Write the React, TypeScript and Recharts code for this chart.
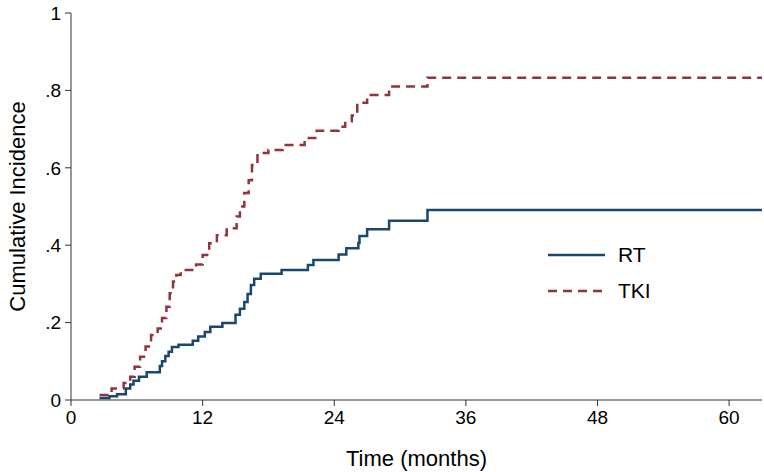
import React from "react";
import { LineChart, Line, XAxis, YAxis } from "recharts";

// step points (months, cumulative incidence)
const rtTimes = [2.6, 3.5, 4.2, 5.0, 5.4, 5.7, 6.2, 6.9, 8.1, 8.3, 8.6, 8.9, 9.2, 9.8, 11.1, 11.6, 12.2, 12.7, 13.8, 15.0, 15.4, 15.8, 16.1, 16.4, 16.7, 17.3, 19.2, 21.6, 22.1, 24.4, 25.1, 26.2, 26.3, 27.0, 29.0, 32.5, 63];
const rtValues = [0.005, 0.01, 0.015, 0.03, 0.04, 0.05, 0.06, 0.072, 0.088, 0.1, 0.114, 0.125, 0.137, 0.143, 0.153, 0.164, 0.176, 0.189, 0.199, 0.22, 0.236, 0.253, 0.274, 0.297, 0.313, 0.326, 0.336, 0.349, 0.362, 0.376, 0.392, 0.406, 0.424, 0.441, 0.463, 0.491, 0.491];

const tkiTimes = [2.6, 3.7, 4.8, 5.4, 5.8, 6.3, 6.8, 7.3, 7.9, 8.3, 8.7, 9.0, 9.3, 9.6, 10.0, 11.4, 12.0, 12.6, 13.3, 14.2, 15.1, 15.4, 15.8, 16.2, 16.5, 17.0, 18.0, 19.3, 21.3, 22.4, 24.4, 25.0, 25.6, 26.1, 27.0, 29.0, 32.5, 63];
const tkiValues = [0.013, 0.03, 0.044, 0.06, 0.086, 0.112, 0.138, 0.168, 0.185, 0.212, 0.241, 0.276, 0.306, 0.323, 0.336, 0.35, 0.375, 0.405, 0.426, 0.444, 0.474, 0.5, 0.535, 0.568, 0.607, 0.638, 0.646, 0.659, 0.677, 0.696, 0.706, 0.72, 0.735, 0.768, 0.788, 0.81, 0.833, 0.833];

const seriesNames = ["RT", "TKI"];
const xTicks = [0, 12, 24, 36, 48, 60];
const yTicks = [0, 0.2, 0.4, 0.6, 0.8, 1];

const BLUE = "#1a476f";
const RED = "#90353b";
const FONT = "'Liberation Sans', Arial, Helvetica, sans-serif";

const rtData = rtTimes.map((t, i) => ({ t, v: rtValues[i] }));
const tkiData = tkiTimes.map((t, i) => ({ t, v: tkiValues[i] }));

const fmtY = (v: number) => (v === 0 ? "0" : v === 1 ? "1" : String(v).replace("0.", "."));

function LegendBox() {
  return (
    <svg width={140} height={70} style={{ position: "absolute", left: 545, top: 240 }}>
      <line x1={3} x2={60} y1={15} y2={15} stroke={BLUE} strokeWidth={2.5} />
      <text x={73} y={22} fontSize={21} fontFamily={FONT} fill="#000">
        {seriesNames[0]}
      </text>
      <line x1={3} x2={60} y1={51} y2={51} stroke={RED} strokeWidth={2.5} strokeDasharray="9 6" />
      <text x={73} y={58} fontSize={21} fontFamily={FONT} fill="#000">
        {seriesNames[1]}
      </text>
    </svg>
  );
}

export default function App() {
  return (
    <div style={{ position: "absolute", left: 0, top: 0, width: 764, height: 472, background: "#fff" }}>
      <LineChart width={764} height={472} margin={{ top: 13, right: 2, left: 0, bottom: 0 }}>
        <XAxis
          type="number"
          dataKey="t"
          domain={[0, 63]}
          ticks={xTicks}
          allowDataOverflow
          height={72}
          tickSize={6}
          tickMargin={5}
          stroke="#333"
          tick={{ fill: "#000", fontSize: 19, fontFamily: FONT }}
          label={{ value: "Time (months)", position: "insideBottom", offset: 6, fill: "#000", fontSize: 22, fontFamily: FONT }}
        />
        <YAxis
          type="number"
          domain={[0, 1]}
          ticks={yTicks}
          width={71}
          tickSize={6}
          tickMargin={4}
          stroke="#333"
          tickFormatter={fmtY}
          tick={{ fill: "#000", fontSize: 19, fontFamily: FONT }}
          label={{
            content: (p: any) => {
              const vb = p.viewBox || { x: 0, y: 13, height: 387 };
              const cx = vb.x + 17;
              const cy = vb.y + vb.height / 2;
              return (
                <text x={cx} y={cy} transform={`rotate(-90 ${cx} ${cy})`} textAnchor="middle" dominantBaseline="central" fontSize={22} fontFamily={FONT} fill="#000">
                  Cumulative Incidence
                </text>
              );
            },
          }}
        />
        <Line data={rtData} dataKey="v" name={seriesNames[0]} type="stepAfter" stroke={BLUE} strokeWidth={2.5} dot={false} isAnimationActive={false} />
        <Line data={tkiData} dataKey="v" name={seriesNames[1]} type="stepAfter" stroke={RED} strokeWidth={2.5} strokeDasharray="9 6" dot={false} isAnimationActive={false} />
      </LineChart>
      <LegendBox />
    </div>
  );
}
